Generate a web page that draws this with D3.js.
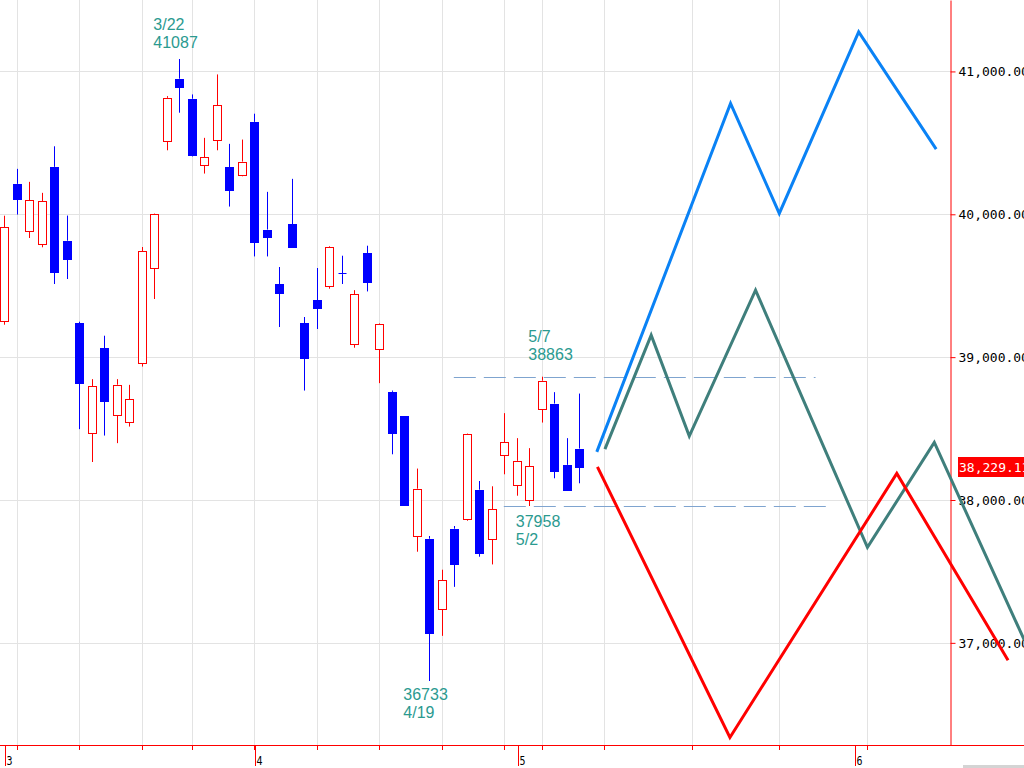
<!DOCTYPE html>
<html><head><meta charset="utf-8">
<script src="https://cdn.jsdelivr.net/npm/d3@7"></script>
<style>html,body{margin:0;padding:0;background:#fff;overflow:hidden}</style>
</head><body>
<svg id="chart" width="1024" height="768"></svg>
<script>
// ---------- data ----------
const dates = ["2024-03-01","2024-03-04","2024-03-05","2024-03-06","2024-03-07","2024-03-08",
  "2024-03-11","2024-03-12","2024-03-13","2024-03-14","2024-03-15",
  "2024-03-18","2024-03-19","2024-03-21","2024-03-22",
  "2024-03-25","2024-03-26","2024-03-27","2024-03-28","2024-03-29",
  "2024-04-01","2024-04-02","2024-04-03","2024-04-04","2024-04-05",
  "2024-04-08","2024-04-09","2024-04-10","2024-04-11","2024-04-12",
  "2024-04-15","2024-04-16","2024-04-17","2024-04-18","2024-04-19",
  "2024-04-22","2024-04-23","2024-04-24","2024-04-25","2024-04-26",
  "2024-04-30","2024-05-01","2024-05-02",
  "2024-05-07","2024-05-08","2024-05-09","2024-05-10"];
const opens  = [39250,40213,39883,39792,40332,39815,39239,38470,39061,38594,38549,38962,39621,40511,40949,
  40809,40348,40523,40329,40273,40647,39893,39509,39930,39239,39397,39498,39586,39094,39729,
  39059,38757,38590,37746,37729,37236,37799,37867,38072,37727,38313,38103,38000,38638,38675,38246,38360];
const highs  = [39990,40318,40227,40150,40476,39991,39248,38846,39150,38846,38806,39771,40006,40827,41087,
  40839,40535,40979,40493,40523,40704,40157,39631,40248,39281,39624,39778,39710,39469,39780,
  39236,38766,38590,38220,37748,37512,37818,38465,38133,38096,38608,38433,38363,38863,38755,38433,38745];
const lows   = [39227,39998,39834,39769,39512,39547,38496,38266,38451,38398,38514,38934,39407,40448,40711,
  40405,40285,40448,40054,40266,39705,39705,39211,39773,38766,39197,39479,39512,39066,39460,
  38818,38320,37960,37638,36733,37049,37392,37855,37603,37549,38180,38030,37958,38542,38152,38070,38117];
const closes = [39910,40109,40097,40090,39598,39688,38820,38797,38695,38807,38707,39740,40003,40815,40888,
  40414,40398,40762,40168,40369,39803,39838,39451,39773,38992,39347,39773,39581,39442,39523,
  39232,38471,37962,38079,37068,37438,37552,38460,37628,37934,38405,38274,38236,38835,38202,38073,38229.11];

const yTicks = [37000,38000,39000,40000,41000];
const lastPrice = 38229.11;

// projection lines: calendar days after the last candle, and price
const blueDays = [1.4, 12.1, 16.0, 22.35, 28.55];
const blueVals = [38337, 40776, 40006, 41277, 40456];
const tealDays = [2.05, 5.75, 8.8, 14.1, 23.05, 28.4, 35.6];
const tealVals = [38356, 39154, 38447, 39469, 37668, 38403, 37019];
const redDays  = [1.45, 12.05, 25.4, 34.3];
const redVals  = [38232, 36338, 38186, 36879];

// horizontal reference levels (dashed)
const levelVals  = [38863, 37958];
const levelStart = ["2024-04-23", "2024-04-30"];
const levelEndDays = [18.9, 19.8];

// annotations
const annDates = ["2024-03-22", "2024-05-07", "2024-05-02", "2024-04-19"];
const annLines = [["3/22","41087"], ["5/7","38863"], ["37958","5/2"], ["36733","4/19"]];

// ---------- layout ----------
const W = 1024, H = 768;
const plotBottom = 745, axisX = 950.5;
const svg = d3.select("#chart");
const parse = d3.timeParse("%Y-%m-%d");
const tDates = dates.map(parse);
const lastIdx = tDates.length - 1;
const future = d3.timeDay.range(d3.timeDay.offset(tDates[lastIdx], 1), new Date(2024, 5, 25));
const slots = tDates.concat(future);

const x = d3.scaleLinear().domain([0, 1]).range([4.3, 16.8]);
const y = d3.scaleLinear().domain([36285, 41500]).range([plotBottom, 0]);
const idxOf = ds => tDates.findIndex(d => +d === +parse(ds));
const px = v => Math.round(v) + 0.5;

// gridlines
const weekIdx = slots.map((d, i) => i).filter(i => i > 0 &&
  +d3.timeWeek.floor(slots[i]) !== +d3.timeWeek.floor(slots[i - 1]) && x(i) < axisX);
const monthIdx = slots.map((d, i) => i).filter(i => (i === 0 ? slots[0].getDate() <= 7 :
  slots[i].getMonth() !== slots[i - 1].getMonth()) && x(i) < axisX);

const grid = svg.append("g").attr("stroke", "#e3e3e3").attr("stroke-width", 1);
grid.selectAll("line.h").data(yTicks).join("line")
  .attr("x1", 0).attr("x2", axisX).attr("y1", d => px(y(d))).attr("y2", d => px(y(d)));
grid.selectAll("line.v").data(weekIdx).join("line")
  .attr("x1", i => px(x(i))).attr("x2", i => px(x(i))).attr("y1", 0).attr("y2", plotBottom);

// dashed levels
svg.append("g").selectAll("line").data(levelVals).join("line")
  .attr("x1", (d, k) => x(idxOf(levelStart[k])) - 0.5)
  .attr("x2", (d, k) => x(lastIdx + levelEndDays[k]))
  .attr("y1", d => px(y(d))).attr("y2", d => px(y(d)))
  .attr("stroke", "#7fa4cf").attr("stroke-width", 1).attr("stroke-dasharray", "22,8");

// candles
const cg = svg.append("g");
tDates.forEach((d, i) => {
  const o = opens[i], c = closes[i], h = highs[i], l = lows[i];
  const up = c > o;
  const col = up ? "#ff0000" : "#0000ff";
  const cx = px(x(i));
  const top = y(Math.max(o, c)), bot = y(Math.min(o, c));
  cg.append("line").attr("x1", cx).attr("x2", cx).attr("y1", y(h)).attr("y2", top).attr("stroke", col);
  cg.append("line").attr("x1", cx).attr("x2", cx).attr("y1", bot).attr("y2", y(l)).attr("stroke", col);
  if (bot - top < 1.5) {
    cg.append("line").attr("x1", cx - 4).attr("x2", cx + 4).attr("y1", px(top)).attr("y2", px(top)).attr("stroke", col);
  } else {
    cg.append("rect").attr("x", cx - 4).attr("width", 8)
      .attr("y", Math.round(top) + 0.5).attr("height", Math.max(1, Math.round(bot) - Math.round(top)))
      .attr("fill", up ? "#fff" : col).attr("stroke", col).attr("stroke-width", 1);
  }
});

// right axis
const ra = svg.append("g").attr("transform", `translate(${axisX},0)`)
  .call(d3.axisRight(y).tickValues(yTicks).tickSize(5).tickSizeOuter(0).tickPadding(3)
    .tickFormat(d3.format(",.2f")));
ra.select(".domain").attr("stroke", "#ff0000");
ra.selectAll(".tick line").attr("stroke", "#ff0000");
ra.selectAll(".tick text").attr("fill", "#000").attr("font-family", "DejaVu Sans Mono, monospace")
  .attr("font-size", 13);

// bottom axis
const ba = svg.append("g");
ba.append("line").attr("x1", 0).attr("x2", W).attr("y1", plotBottom + 0.5).attr("y2", plotBottom + 0.5)
  .attr("stroke", "#ff0000");
ba.selectAll("line.t").data(weekIdx).join("line")
  .attr("x1", i => px(x(i))).attr("x2", i => px(x(i))).attr("y1", plotBottom).attr("y2", plotBottom + 5)
  .attr("stroke", "#ff0000");
ba.selectAll("line.m").data(monthIdx).join("line")
  .attr("x1", i => px(x(i)) + 1).attr("x2", i => px(x(i)) + 1).attr("y1", plotBottom).attr("y2", 766)
  .attr("stroke", "#ff0000");
ba.selectAll("text").data(monthIdx).join("text")
  .attr("x", i => px(x(i)) + 2).attr("y", 765)
  .attr("font-family", "DejaVu Sans Mono, monospace").attr("font-size", 13)
  .attr("textLength", 6).attr("lengthAdjust", "spacingAndGlyphs")
  .attr("fill", "#000").text(i => slots[i].getMonth() + 1);
svg.append("rect").attr("x", 963).attr("y", 765).attr("width", 61).attr("height", 3).attr("fill", "#d4d4d4");

// annotations
const annOffsets = [[-26, 30], [-13.5, 342], [-13.5, 527], [-26, 700]];
annDates.forEach((ds, k) => {
  const i = idxOf(ds);
  const t = svg.append("text").attr("font-family", "Liberation Sans, Arial, sans-serif")
    .attr("font-size", 16).attr("fill", "#2b9a90");
  annLines[k].forEach((s, j) => {
    t.append("tspan").attr("x", x(i) + annOffsets[k][0]).attr("y", annOffsets[k][1] + j * 17.5).text(s);
  });
});

// last price label
const ly = y(lastPrice);
svg.append("rect").attr("x", 958).attr("y", Math.round(ly) - 10).attr("width", 70).attr("height", 20)
  .attr("fill", "#ff0000");
svg.append("text").attr("x", 959).attr("y", ly).attr("dy", "0.35em")
  .attr("font-family", "DejaVu Sans Mono, monospace").attr("font-size", 13).attr("fill", "#fff")
  .text(d3.format(",.2f")(lastPrice));

// projection lines
const line = d3.line().x(p => x(lastIdx + p[0])).y(p => y(p[1]));
const series = [[blueDays, blueVals, "#0a82f5"], [tealDays, tealVals, "#3f7f7c"], [redDays, redVals, "#ff0000"]];
series.forEach(([ds, vs, col]) => {
  svg.append("path").datum(ds.map((d, k) => [d, vs[k]]))
    .attr("d", line).attr("fill", "none").attr("stroke", col).attr("stroke-width", 3)
    .attr("stroke-linejoin", "miter");
});
</script>
</body></html>
